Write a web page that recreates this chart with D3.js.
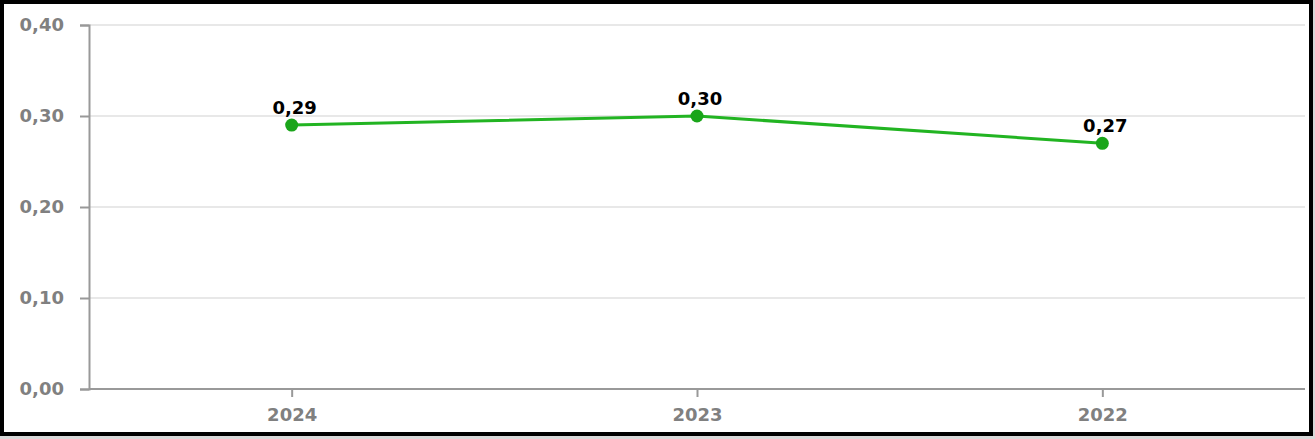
<!DOCTYPE html>
<html><head><meta charset="utf-8">
<script src="https://cdn.jsdelivr.net/npm/d3@7"></script>
<style>html,body{margin:0;padding:0;background:#fff;}svg{display:block;}</style>
</head><body>
<svg id="c" width="1315" height="439"></svg>
<script>
const categories = ["2024", "2023", "2022"];
const values = [0.29, 0.30, 0.27];
const yTicks = [0, 0.1, 0.2, 0.3, 0.4];

(function () {
const svg = d3.select("#c");
const W = 1315, H = 439;
const mLeft = 89, mRight = 1305, mTop = 25, mBottom = 389;
const fmt = v => d3.format(".2f")(v).replace(".", ",");
const font = "DejaVu Sans, Verdana, sans-serif";

svg.append("rect").attr("x", 0).attr("y", 0).attr("width", W).attr("height", H).attr("fill", "#d8d8d8");
svg.append("rect").attr("x", 2).attr("y", 2).attr("width", 1309).attr("height", 432)
  .attr("fill", "#fff").attr("stroke", "#000").attr("stroke-width", 4);

const x = d3.scalePoint().domain(categories).range([mLeft, mRight]).padding(0.5);
const y = d3.scaleLinear().domain([0, 0.4]).range([mBottom, mTop]);

// gridlines
svg.append("g").selectAll("line").data(yTicks.filter(t => t > 0)).join("line")
  .attr("x1", mLeft).attr("x2", mRight)
  .attr("y1", d => y(d)).attr("y2", d => y(d))
  .attr("stroke", "#e8e8e8").attr("stroke-width", 2);

// y axis
const yAxis = svg.append("g").attr("transform", `translate(${mLeft},0)`)
  .call(d3.axisLeft(y).tickValues(yTicks).tickFormat(fmt).tickSize(9).tickPadding(16));
yAxis.select(".domain").attr("stroke", "#999").attr("stroke-width", 2);
yAxis.selectAll(".tick line").attr("stroke", "#999").attr("stroke-width", 2);
yAxis.selectAll("text").attr("fill", "#808080").attr("font-family", font)
  .attr("font-weight", "bold").attr("font-size", 18);

// x axis
const xAxis = svg.append("g").attr("transform", `translate(0,${mBottom})`)
  .call(d3.axisBottom(x).tickSize(8).tickPadding(11));
xAxis.select(".domain").attr("d", `M${mLeft},0H${mRight}`).attr("stroke", "#999").attr("stroke-width", 2);
xAxis.selectAll(".tick line").attr("stroke", "#999").attr("stroke-width", 2);
xAxis.selectAll("text").attr("fill", "#808080").attr("font-family", font)
  .attr("font-weight", "bold").attr("font-size", 18);

const data = categories.map((c, i) => ({c, v: values[i]}));

svg.append("path").datum(data)
  .attr("fill", "none").attr("stroke", "#22b422").attr("stroke-width", 3)
  .attr("d", d3.line().x(d => x(d.c)).y(d => y(d.v)));

svg.append("g").selectAll("circle").data(data).join("circle")
  .attr("cx", d => x(d.c)).attr("cy", d => y(d.v)).attr("r", 6.5)
  .attr("fill", "#1aa51a");

svg.append("g").selectAll("text").data(data).join("text")
  .attr("x", d => x(d.c) + 3).attr("y", d => y(d.v) - 11)
  .attr("text-anchor", "middle").attr("font-family", font)
  .attr("font-weight", "bold").attr("font-size", 18).attr("fill", "#000")
  .text(d => fmt(d.v));
})();
</script>
</body></html>
